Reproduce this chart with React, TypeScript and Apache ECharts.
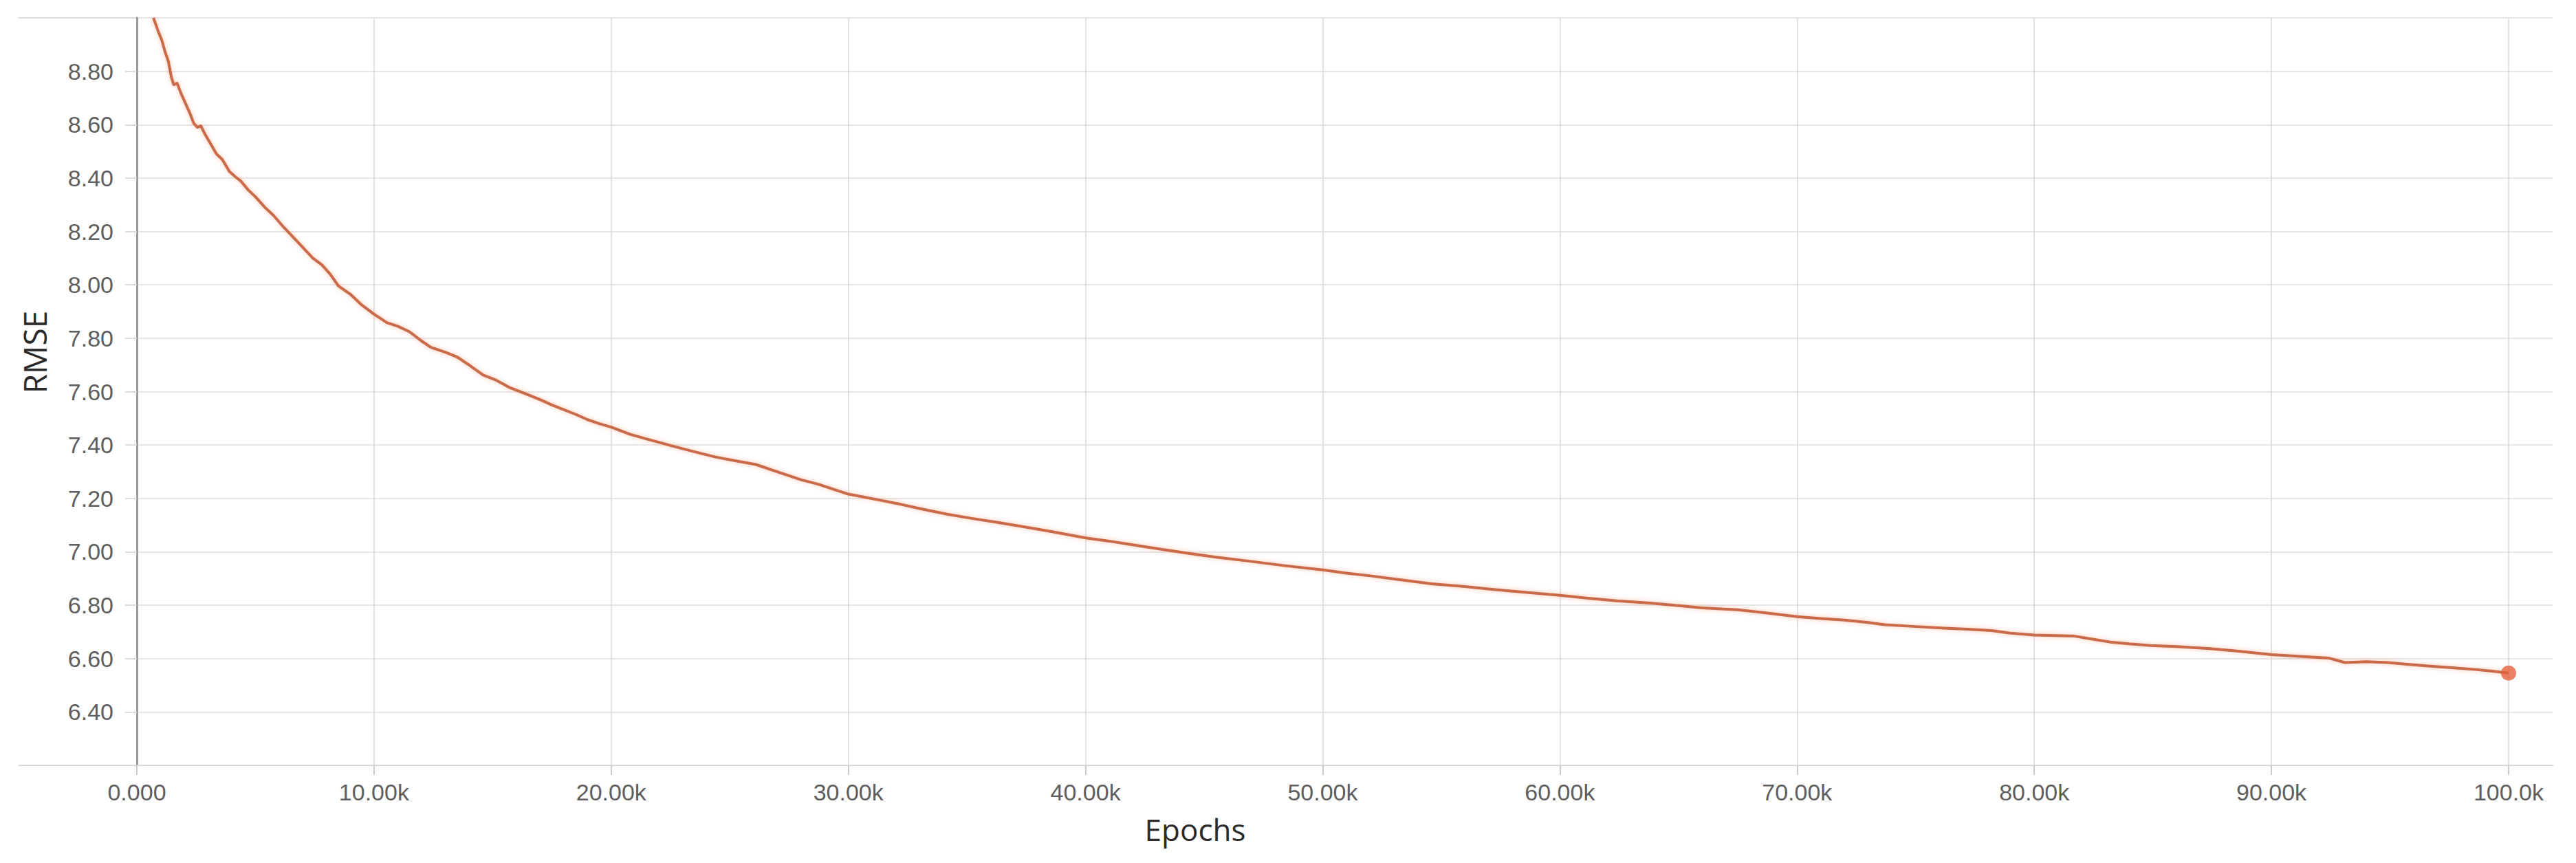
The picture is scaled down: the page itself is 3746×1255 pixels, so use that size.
import React, { useEffect, useRef } from "react";
import * as echarts from "echarts";

// Training curve (epoch, RMSE)
const epochs = [
  700, 900, 1050, 1200, 1330, 1450, 1550, 1700, 1850, 2000, 2250, 2400, 2550, 2700, 2900,
  3100, 3360, 3600, 3900, 4150, 4370, 4700, 5000, 5400, 5760, 6200, 6680, 7000, 7420, 7800,
  8150, 8500, 9000, 9450, 10000, 10550, 11000, 11500, 12000, 12400, 13000, 13500, 14000,
  14600, 15100, 15700, 16300, 17000, 17500, 17900, 18500, 19000, 19500, 20000, 20800,
  21600, 22500, 23500, 24400, 25300, 26100, 27200, 28000, 28700, 30000, 31300, 32200,
  33100, 34200, 35200, 36300, 37300, 38600, 40000, 41000, 41700, 43000, 44200, 45500,
  46800, 48400, 50000, 51000, 52000, 53300, 54600, 56000, 57200, 58600, 60000, 61200,
  62400, 63800, 65000, 66000, 67500, 68800, 70000, 71000, 72000, 73000, 73700, 75000,
  76200, 77200, 78200, 79000, 80000, 81700, 82500, 83200, 84000, 84900, 86000, 87400,
  88700, 90000, 91200, 92400, 93100, 94000, 94900, 95800, 96600, 97600, 98600, 99300, 100000,
];
const rmse = [
  9.0, 8.95, 8.917, 8.87, 8.837, 8.78, 8.75, 8.755, 8.72, 8.69, 8.64, 8.605, 8.59, 8.595, 8.56,
  8.53, 8.49, 8.47, 8.425, 8.405, 8.39, 8.355, 8.33, 8.29, 8.26, 8.215, 8.17, 8.14, 8.1, 8.075,
  8.04, 7.996, 7.965, 7.927, 7.89, 7.858, 7.845, 7.824, 7.79, 7.766, 7.748, 7.73, 7.7,
  7.662, 7.645, 7.616, 7.595, 7.57, 7.55, 7.536, 7.515, 7.495, 7.48, 7.467, 7.44,
  7.42, 7.398, 7.375, 7.355, 7.34, 7.327, 7.294, 7.27, 7.254, 7.216, 7.194, 7.178,
  7.16, 7.14, 7.125, 7.11, 7.095, 7.075, 7.052, 7.04, 7.03, 7.012, 6.996, 6.98,
  6.966, 6.948, 6.932, 6.92, 6.91, 6.895, 6.88, 6.87, 6.859, 6.848, 6.837, 6.826,
  6.816, 6.808, 6.798, 6.79, 6.783, 6.77, 6.757, 6.75, 6.744, 6.735, 6.727, 6.72,
  6.714, 6.71, 6.705, 6.695, 6.688, 6.684, 6.672, 6.662, 6.655, 6.649, 6.645, 6.637,
  6.627, 6.615, 6.608, 6.602, 6.585, 6.588, 6.585, 6.578, 6.572, 6.566, 6.559, 6.553, 6.546,
];

const xTickValues = [0, 10000, 20000, 30000, 40000, 50000, 60000, 70000, 80000, 90000, 100000];
const xTickLabels = ["0.000", "10.00k", "20.00k", "30.00k", "40.00k", "50.00k", "60.00k", "70.00k", "80.00k", "90.00k", "100.0k"];
const xAxisTitle = "Epochs";
const yAxisTitle = "RMSE";

export default function App() {
  const ref = useRef<HTMLDivElement>(null);
  useEffect(() => {
    document.body.style.margin = "0";
    const chart = echarts.init(ref.current!, null, { renderer: "svg" });
    const data = epochs.map((e, i) => [e, rmse[i]]);
    const last = data[data.length - 1];
    const gridLeft = 199;
    const gridTop = 26;
    const gridRight = 3712;
    const gridBottom = 1113;
    chart.setOption({
      animation: false,
      backgroundColor: "#ffffff",
      grid: {
        left: gridLeft,
        top: gridTop,
        width: gridRight - gridLeft,
        height: gridBottom - gridTop,
        containLabel: false,
      },
      xAxis: {
        type: "value",
        min: 0,
        max: 101856,
        axisLine: { show: true, onZero: false, lineStyle: { color: "#d8d8d8", width: 2 } },
        axisTick: {
          show: true,
          length: 14,
          customValues: xTickValues,
          lineStyle: { color: "#cccccc", width: 2 },
        },
        axisLabel: {
          customValues: xTickValues,
          formatter: (v: number) => {
            const i = xTickValues.indexOf(Math.round(v));
            return i >= 0 ? xTickLabels[i] : "";
          },
          fontSize: 34,
          color: "#5e5e5e",
          fontFamily: "Liberation Sans, Arial, sans-serif",
          margin: 22,
        },
        splitLine: { show: true, lineStyle: { color: "#d9d9d9", width: 1.5 } },
      },
      yAxis: {
        type: "value",
        min: 6.2,
        max: 9.0,
        interval: 0.2,
        axisLine: { show: true, lineStyle: { color: "#9a9a9a", width: 3 } },
        axisTick: { show: true, length: 17, lineStyle: { color: "#dcdcdc", width: 2 } },
        axisLabel: {
          showMinLabel: false,
          showMaxLabel: false,
          formatter: (v: number) => v.toFixed(2),
          fontSize: 34,
          color: "#5e5e5e",
          fontFamily: "Liberation Sans, Arial, sans-serif",
          margin: 34,
        },
        splitLine: { show: true, lineStyle: { color: "#e6e6e6", width: 2 } },
      },
      graphic: [
        {
          type: "line",
          z: 0,
          shape: { x1: 27, y1: gridTop, x2: gridRight, y2: gridTop },
          style: { stroke: "#dcdcdc", lineWidth: 2 },
        },
        {
          type: "line",
          z: 0,
          shape: { x1: 27, y1: gridBottom, x2: gridLeft, y2: gridBottom },
          style: { stroke: "#d8d8d8", lineWidth: 2 },
        },
        {
          type: "text",
          x: 1738,
          y: 1206,
          style: {
            text: xAxisTitle,
            align: "center",
            verticalAlign: "middle",
            fontSize: 44,
            fontFamily: "Open Sans, Noto Sans, sans-serif",
            fill: "#2a2a2a",
          },
        },
        {
          type: "text",
          x: 50,
          y: 512,
          rotation: Math.PI / 2,
          style: {
            text: yAxisTitle,
            align: "center",
            verticalAlign: "middle",
            fontSize: 46,
            fontFamily: "Open Sans, Noto Sans, sans-serif",
            fill: "#2a2a2a",
          },
        },
      ],
      series: [
        {
          type: "line",
          data,
          showSymbol: false,
          symbol: "none",
          clip: true,
          lineStyle: {
            color: "#c96a4a",
            width: 4,
            join: "round",
            shadowColor: "rgba(255,130,90,0.5)",
            shadowBlur: 6,
          },
          z: 3,
        },
        {
          type: "scatter",
          data: [last],
          symbol: "circle",
          symbolSize: 22,
          itemStyle: { color: "#e5603d" },
          z: 4,
        },
      ],
    });
    return () => chart.dispose();
  }, []);
  return (
    <div
      ref={ref}
      style={{ position: "absolute", left: 0, top: 0, width: 3746, height: 1255, background: "#fff" }}
    />
  );
}
